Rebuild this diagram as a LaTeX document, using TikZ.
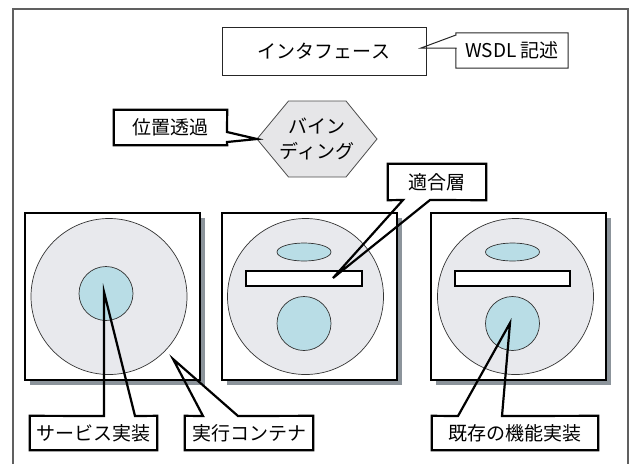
\documentclass[tikz,border=0pt]{standalone}
\usepackage{fontspec}
\setmainfont{Noto Sans CJK JP}
\usetikzlibrary{calc}
\definecolor{frameg}{HTML}{606060}
\definecolor{discfill}{HTML}{E8E9ED}
\definecolor{bluefill}{HTML}{B9DDE6}
\definecolor{shadowg}{HTML}{8C949B}
\definecolor{hexfill}{HTML}{E6E6E8}
\tikzset{
  lbl/.style={inner sep=0pt, font=\fontsize{19}{23}\selectfont},
  thinbox/.style={draw=black!85, line width=1pt},
  callout/.style={draw=black, line width=2.2pt, line join=miter},
  panelbox/.style={draw=black, line width=2pt, fill=white},
  panelshadow/.style={fill=shadowg, draw=none},
  disc/.style={draw=black!80, line width=0.7pt, fill=discfill},
  blue/.style={draw=black!80, line width=0.7pt, fill=bluefill},
  bar/.style={draw=black, line width=2pt, fill=white},
  hexa/.style={draw=black!70, line width=0.8pt, fill=hexfill, line join=miter}
}
\begin{document}
\begin{tikzpicture}[x=1pt,y=-1pt]
\useasboundingbox (0,0) rectangle (631,464);
% outer frame
\draw[frameg, line width=1.2pt] (13,464) -- (13,9) -- (628,9) -- (628,464);

% interface + WSDL
\node[lbl, thinbox, minimum width=204pt, minimum height=48pt] (iface) at (324,51) {インタフェース};
\node[lbl, minimum width=112pt, minimum height=35pt] (wsdl) at (512,50.5) {WSDL 記述};
\coordinate (wsdlA) at (456,48);
\coordinate (wsdlB) at (456,35);
\coordinate (wsdlT) at (421,48);
\draw[thinbox, line join=miter] (wsdl.north west) -- (wsdlB) -- (wsdlT) -- (wsdlA) -- (wsdl.south west) -- (wsdl.south east) -- (wsdl.north east) -- cycle;

% hexagon binding
\draw[hexa] (257,139) -- (288.5,101) -- (346,101) -- (377,139) -- (346,177) -- (288.5,177) -- cycle;
\node[lbl, align=center, font=\fontsize{19}{25}\selectfont] (bind) at (317,139) {バイン\\ディング};

% position transparency callout
\node[lbl, minimum width=113pt, minimum height=35pt] (pos) at (170.5,127.5) {位置透過};
\coordinate (posA) at (227,132);
\coordinate (posB) at (227,142);
\coordinate (posT) at (257,139);
\draw[callout] (pos.north west) -- (pos.north east) -- (posA) -- (posT) -- (posB) -- (pos.south east) -- (pos.south west) -- cycle;

% panels
\foreach \n/\x in {p1/25, p2/222, p3/431}{
  \fill[panelshadow] (\x+5,218) rectangle (\x+180,385);
  \draw[panelbox] (\x,213) rectangle (\x+175,380);
}
\node[inner sep=0pt, minimum width=175pt, minimum height=167pt] (p1) at (112.5,296.5) {};
\node[inner sep=0pt, minimum width=175pt, minimum height=167pt] (p2) at (309.5,296.5) {};
\node[inner sep=0pt, minimum width=175pt, minimum height=167pt] (p3) at (518.5,296.5) {};

% panel 1
\draw[disc] (109,296.5) circle (78);
\draw[blue] (106,293.5) circle (27);
% panel 2
\draw[disc] (305.5,296.5) circle (78);
\draw[blue] (304,252) ellipse (27 and 9);
\draw[bar] (246,271) rectangle (362,286);
\draw[blue] (304,323.5) circle (27);
% panel 3
\draw[disc] (515.5,296.5) circle (78);
\draw[blue] (512.5,252) ellipse (27 and 9);
\draw[bar] (455,271) rectangle (570,286);
\draw[blue] (512.5,323.5) circle (27);

% adaptation layer callout
\node[lbl, minimum width=98pt, minimum height=36pt] (adapt) at (437,182) {適合層};
\coordinate (adA) at (403,200);
\coordinate (adB) at (430,200);
\coordinate (adT) at (333,278);
\draw[callout] (adapt.north west) -- (adapt.north east) -- (adapt.south east) -- (adB) -- (adT) -- (adA) -- (adapt.south west) -- cycle;

% bottom callouts
\node[lbl, minimum width=127pt, minimum height=34pt] (svc) at (93.5,433) {サービス実装};
\coordinate (svA) at (104,416);
\coordinate (svB) at (135,416);
\coordinate (svT) at (104,292);
\draw[callout] (svc.north west) -- (svA) -- (svT) -- (svB) -- (svc.north east) -- (svc.south east) -- (svc.south west) -- cycle;

\node[lbl, minimum width=128pt, minimum height=34pt] (exec) at (249,433) {実行コンテナ};
\coordinate (exA) at (203,416);
\coordinate (exB) at (238,416);
\coordinate (exT) at (173,359);
\draw[callout] (exec.north west) -- (exA) -- (exT) -- (exB) -- (exec.north east) -- (exec.south east) -- (exec.south west) -- cycle;

\node[lbl, minimum width=166pt, minimum height=34pt] (kison) at (515,433) {既存の機能実装};
\coordinate (kiA) at (458,416);
\coordinate (kiB) at (502,416);
\coordinate (kiT) at (510,323);
\draw[callout] (kison.north west) -- (kiA) -- (kiT) -- (kiB) -- (kison.north east) -- (kison.south east) -- (kison.south west) -- cycle;
\end{tikzpicture}
\end{document}
